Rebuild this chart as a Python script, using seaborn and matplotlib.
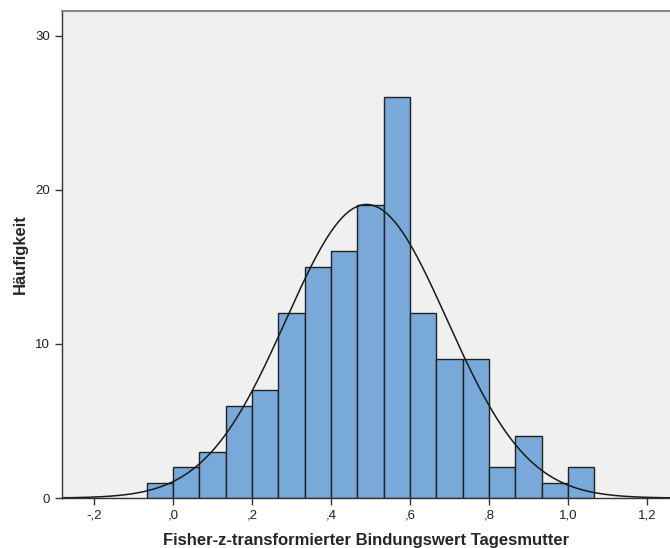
import numpy as np
import pandas as pd
import matplotlib
matplotlib.use("Agg")
import matplotlib.pyplot as plt
import seaborn as sns

# Data
bin_edges = [-0.0667, 0.0, 0.0667, 0.1333, 0.2, 0.2667, 0.3333, 0.4, 0.4667,
             0.5333, 0.6, 0.6667, 0.7333, 0.8, 0.8667, 0.9333, 1.0, 1.0667]
counts = [1, 2, 3, 6, 7, 12, 15, 16, 19, 26, 12, 9, 9, 2, 4, 1, 2]
mean_val = 0.49
sd_val = 0.204
n_total = 146
x_ticks = [-0.2, 0.0, 0.2, 0.4, 0.6, 0.8, 1.0, 1.2]
x_tick_labels = ["-,2", ",0", ",2", ",4", ",6", ",8", "1,0", "1,2"]
y_ticks = [0, 10, 20, 30]
y_tick_labels = ["0", "10", "20", "30"]

sns.set_style("white")
plt.rcParams['font.family'] = ['Liberation Sans', 'DejaVu Sans']

centers = [(bin_edges[i] + bin_edges[i + 1]) / 2 for i in range(len(counts))]
df = pd.DataFrame({"x": centers, "w": counts})

fig = plt.figure(figsize=(6.7, 5.48), dpi=100)
ax = fig.add_axes([0.0925, 0.0912, 0.9075, 0.889])
ax.set_facecolor("#f0f0f0")

sns.histplot(data=df, x="x", weights="w", bins=bin_edges, ax=ax,
             color="#79a9d9", alpha=1.0, edgecolor="#222222", linewidth=1.0)

# Normal curve overlay
bw = bin_edges[1] - bin_edges[0]
xs = np.linspace(-0.3, 1.3, 400)
ys = n_total * bw / (sd_val * np.sqrt(2 * np.pi)) * np.exp(-(xs - mean_val) ** 2 / (2 * sd_val ** 2))
sns.lineplot(x=xs, y=ys, ax=ax, color="#1a1a1a", linewidth=1.1)

ax.set_xlim(-0.281, 1.258)
ax.set_ylim(0, 31.6)
ax.set_xticks(x_ticks)
ax.set_xticklabels(x_tick_labels)
ax.set_yticks(y_ticks)
ax.set_yticklabels(y_tick_labels)
ax.tick_params(axis="both", direction="out", length=5, width=1, color="#333333",
               labelsize=9.5, labelcolor="#222222", bottom=True, left=True)

for side in ["left", "bottom"]:
    ax.spines[side].set_color("#333333")
    ax.spines[side].set_linewidth(1.0)
ax.spines["top"].set_color("#888888")
ax.spines["top"].set_linewidth(1.5)
ax.spines["right"].set_visible(False)

ax.set_xlabel("Fisher-z-transformierter Bindungswert Tagesmutter",
              fontsize=12, fontweight="bold", labelpad=8)
ax.set_ylabel("Häufigkeit", fontsize=12, fontweight="bold", labelpad=5)

fig.savefig("out.png", dpi=100)
